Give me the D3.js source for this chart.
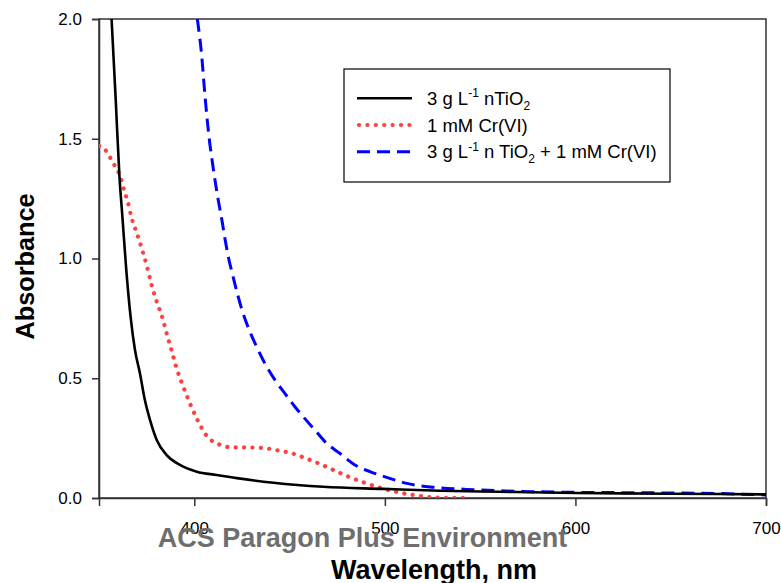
<!DOCTYPE html>
<html>
<head>
<meta charset="utf-8">
<script src="https://cdn.jsdelivr.net/npm/d3@7/dist/d3.min.js"></script>
<style>
  html, body { margin: 0; padding: 0; background: #fff; }
  svg { display: block; font-family: "Liberation Sans", Arial, sans-serif; }
</style>
</head>
<body>
<svg id="chart" width="781" height="583"></svg>
<script>
// UV-vis absorbance spectra, wavelength (nm) vs absorbance
const xTicks = [400, 500, 600, 700];
const yTicks = [0, 0.5, 1.0, 1.5, 2.0];

// 3 g/L nTiO2
const tio2Wavelength = [356.6, 358.8, 360.7, 362.3, 364.2, 366.6, 368.9, 371.5, 374.1, 376.8, 380.3, 385.5, 392.5, 401.3, 411.8, 422.3, 441.5, 467.7, 499.2, 528.9, 560.4, 600, 650, 700];
const tio2Absorbance = [2.0, 1.658, 1.346, 1.172, 0.964, 0.755, 0.617, 0.52, 0.408, 0.325, 0.242, 0.179, 0.138, 0.11, 0.096, 0.083, 0.064, 0.047, 0.038, 0.030, 0.026, 0.021, 0.018, 0.015];

// 1 mM Cr(VI)
const crWavelength = [350, 354, 356.3, 358.8, 361, 363.6, 365, 367.1, 370.1, 372.9, 375.4, 377.6, 380.3, 383.4, 385.8, 388.3, 390.8, 393.9, 397.4, 401.3, 406.2, 412.6, 420.5, 429.2, 438, 445, 450.2, 457.2, 465.1, 473, 480, 487.8, 495.7, 503.6, 514.9, 527.2, 543];
const crAbsorbance = [1.47, 1.447, 1.415, 1.38, 1.346, 1.274, 1.239, 1.17, 1.10, 1.03, 0.96, 0.89, 0.82, 0.749, 0.679, 0.61, 0.54, 0.471, 0.401, 0.332, 0.263, 0.225, 0.211, 0.211, 0.207, 0.197, 0.189, 0.17, 0.145, 0.117, 0.092, 0.068, 0.047, 0.030, 0.0125, 0.002, 0.0];

// 3 g/L nTiO2 + 1 mM Cr(VI)
const mixWavelength = [401.6, 403.9, 405.6, 407.7, 410, 412.6, 414.4, 416.1, 417.9, 420.2, 422.6, 425.4, 428.9, 432.8, 437.1, 442.4, 447.6, 452.9, 457.2, 463.4, 469.5, 476.5, 484.3, 492.2, 501, 511.5, 525.4, 542.9, 560.4, 595.4, 630.4, 665.4, 700];
const mixAbsorbance = [2.0, 1.846, 1.68, 1.51, 1.374, 1.242, 1.165, 1.082, 1.005, 0.929, 0.853, 0.776, 0.70, 0.63, 0.561, 0.492, 0.436, 0.38, 0.339, 0.283, 0.228, 0.186, 0.138, 0.11, 0.086, 0.061, 0.045, 0.036, 0.030, 0.024, 0.022, 0.020, 0.013];

const seriesNames = ["3 g L-1 nTiO2", "1 mM Cr(VI)", "3 g L-1 n TiO2 + 1 mM Cr(VI)"];

const svg = d3.select("#chart");
const plotLeft = 99, plotRight = 766, plotTop = 19, plotBottom = 498;

const x = d3.scaleLinear().domain([350, 700]).range([plotLeft, plotRight]);
const y = d3.scaleLinear().domain([0, 2.0]).range([plotBottom, plotTop]);

svg.append("defs").append("clipPath").attr("id", "plotClip")
  .append("rect").attr("x", plotLeft).attr("y", plotTop)
  .attr("width", plotRight - plotLeft).attr("height", plotBottom - plotTop);

// frame
svg.append("rect")
  .attr("x", plotLeft).attr("y", plotTop)
  .attr("width", plotRight - plotLeft).attr("height", plotBottom - plotTop)
  .attr("fill", "none").attr("stroke", "#333").attr("stroke-width", 1.5);

// axes
const xAxis = svg.append("g").attr("transform", `translate(0,${plotBottom})`)
  .call(d3.axisBottom(x).tickValues(xTicks).tickSize(8).tickPadding(16).tickFormat(d3.format("d")));
const yAxis = svg.append("g").attr("transform", `translate(${plotLeft},0)`)
  .call(d3.axisLeft(y).tickValues(yTicks).tickSize(7).tickPadding(10).tickFormat(d3.format(".1f")));
[xAxis, yAxis].forEach(g => {
  g.attr("font-size", 17).attr("font-family", "'Liberation Sans', Arial, sans-serif");
  g.select(".domain").attr("stroke", "#333").attr("stroke-width", 1.5);
  g.selectAll(".tick line").attr("stroke", "#333").attr("stroke-width", 1.5);
  g.selectAll(".tick text").attr("fill", "#000");
});

const line = d3.line().x(d => x(d[0])).y(d => y(d[1])).curve(d3.curveMonotoneX);
const zip = (a, b) => a.map((v, i) => [v, b[i]]);

const plot = svg.append("g").attr("clip-path", "url(#plotClip)");

plot.append("path").datum(zip(mixWavelength, mixAbsorbance))
  .attr("d", line).attr("fill", "none")
  .attr("stroke", "#0000ff").attr("stroke-width", 3)
  .attr("stroke-dasharray", "13,7");

plot.append("path").datum(zip(crWavelength, crAbsorbance))
  .attr("d", line).attr("fill", "none")
  .attr("stroke", "#ff4040").attr("stroke-width", 4.2)
  .attr("stroke-linecap", "round")
  .attr("stroke-dasharray", "0.1,8.3");

plot.append("path").datum(zip(tio2Wavelength, tio2Absorbance))
  .attr("d", line).attr("fill", "none")
  .attr("stroke", "#000").attr("stroke-width", 2.6);

// legend
const lg = svg.append("g");
lg.append("rect").attr("x", 344).attr("y", 69).attr("width", 326).attr("height", 113)
  .attr("fill", "#fff").attr("stroke", "#000").attr("stroke-width", 1.2);

const legendStyles = [
  { stroke: "#000", width: 2.6, dash: null, cap: "butt" },
  { stroke: "#ff4040", width: 4.2, dash: "0.1,8.3", cap: "round" },
  { stroke: "#0000ff", width: 3, dash: "13,7", cap: "butt" }
];
const rowY = [98.3, 125, 151.7];
legendStyles.forEach((s, i) => {
  lg.append("line").attr("x1", i === 1 ? 359 : 357).attr("x2", 412)
    .attr("y1", rowY[i]).attr("y2", rowY[i])
    .attr("stroke", s.stroke).attr("stroke-width", s.width)
    .attr("stroke-dasharray", s.dash).attr("stroke-linecap", s.cap);
});

function richLabel(yPos, parts) {
  const t = lg.append("text").attr("x", 427).attr("y", yPos + 6.5)
    .style("font-size", "18.5px").attr("fill", "#000");
  parts.forEach(p => {
    const ts = t.append("tspan").text(p.t);
    if (p.sup) ts.attr("dy", -7.5).style("font-size", "12px");
    if (p.sub) ts.attr("dy", 5).style("font-size", "12px");
    if (p.back) ts.attr("dy", p.back);
  });
}
richLabel(rowY[0], [{ t: "3 g L" }, { t: "-1", sup: true }, { t: " nTiO", back: 7.5 }, { t: "2", sub: true }]);
richLabel(rowY[1], [{ t: seriesNames[1] }]);
richLabel(rowY[2], [{ t: "3 g L" }, { t: "-1", sup: true }, { t: " n TiO", back: 7.5 }, { t: "2", sub: true }, { t: " + 1 mM Cr(VI)", back: -5 }]);

// axis titles
svg.append("text").attr("x", 434).attr("y", 579).attr("text-anchor", "middle")
  .style("font-size", "27px").style("font-weight", "bold").text("Wavelength, nm");
svg.append("text").attr("transform", "translate(34,266.5) rotate(-90)").attr("text-anchor", "middle")
  .style("font-size", "25.3px").style("font-weight", "bold").text("Absorbance");

// watermark
svg.append("text").attr("x", 362.5).attr("y", 547).attr("text-anchor", "middle")
  .style("font-size", "27px").style("font-weight", "bold").attr("fill", "#6e6e6e")
  .text("ACS Paragon Plus Environment");
</script>
</body>
</html>
